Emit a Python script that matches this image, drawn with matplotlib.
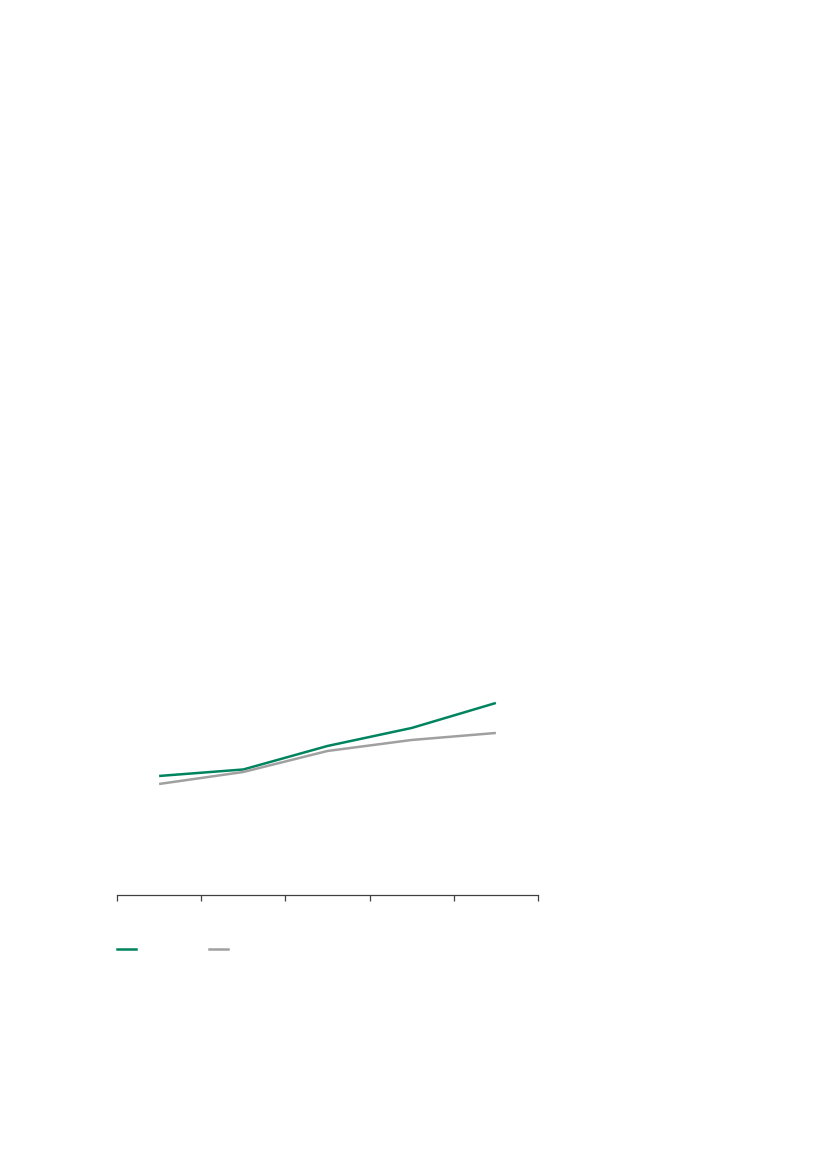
import matplotlib
matplotlib.use('Agg')
import matplotlib.pyplot as plt
from matplotlib.lines import Line2D

# %%
# Values (no tick labels visible, so relative scale)
categories = ['1', '2', '3', '4', '5']
series_a = [119, 125.5, 149, 167, 192]
series_b = [111, 123, 144, 155, 162]
legend_labels = ['', '']

green = '#00845F'
grey = '#A0A0A0'

# %%
fig = plt.figure(figsize=(8.27, 11.69), dpi=100)
ax = fig.add_axes([0.1415, 0.2344, 0.509, 0.2866])

x = list(range(len(categories)))
ax.plot(x, series_a, color=green, lw=1.8, solid_capstyle='butt')
ax.plot(x, series_b, color=grey, lw=1.8, solid_capstyle='butt')

ax.set_xlim(-0.5, len(categories) - 0.5)
ax.set_ylim(0, 335)

for side in ['top', 'right', 'left']:
    ax.spines[side].set_visible(False)
ax.spines['bottom'].set_color('#404040')
ax.spines['bottom'].set_linewidth(0.9)

ax.set_xticks([i - 0.5 for i in range(len(categories) + 1)])
ax.set_xticklabels([])
ax.tick_params(axis='x', direction='out', length=4, width=0.9,
               color='#404040')
ax.set_yticks([])

handles = [Line2D([], [], color=green, lw=1.8),
           Line2D([], [], color=grey, lw=1.8)]
fig.legend(handles, legend_labels, loc='center left',
           bbox_to_anchor=(0.1415, 0.1875), ncol=2, frameon=False,
           borderpad=0, borderaxespad=0, handlelength=1.35,
           handletextpad=0.5, columnspacing=4.8, fontsize=10)

fig.savefig('out.png', dpi=100, facecolor='white')
